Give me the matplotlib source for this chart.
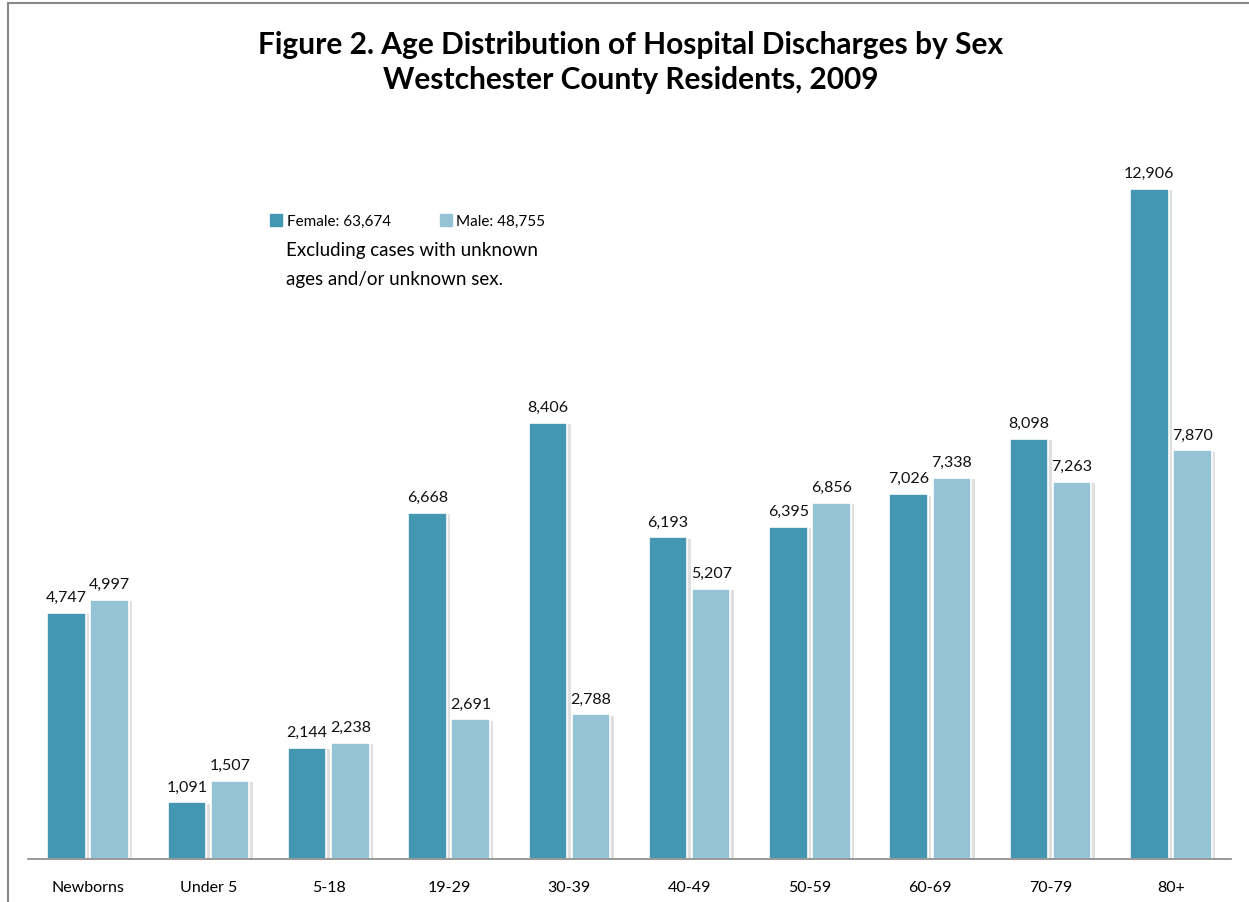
import matplotlib.pyplot as plt
import matplotlib.patches as mpatches
import matplotlib.patheffects as pe
import numpy as np

plt.rcParams['font.family'] = ['Lato', 'DejaVu Sans']

categories = ['Newborns', 'Under 5', '5-18', '19-29', '30-39',
              '40-49', '50-59', '60-69', '70-79', '80+']
female = [4747, 1091, 2144, 6668, 8406, 6193, 6395, 7026, 8098, 12906]
male = [4997, 1507, 2238, 2691, 2788, 5207, 6856, 7338, 7263, 7870]

c_female = '#4397b0'
c_male = '#94c3d5'

fig = plt.figure(figsize=(12.49, 9.03), dpi=100)
ax = fig.add_axes([0.0224, 0.0476, 0.9632, 0.805])

x = np.arange(len(categories))
w = 0.32
shadow = [pe.SimplePatchShadow(offset=(2.5, -1), shadow_rgbFace='#999999', alpha=0.3), pe.Normal()]
b1 = ax.bar(x - 0.179, female, w, color=c_female, edgecolor='white', linewidth=1.2)
b2 = ax.bar(x + 0.179, male, w, color=c_male, edgecolor='white', linewidth=1.2)
for b in list(b1) + list(b2):
    b.set_path_effects(shadow)

for bars, vals in ((b1, female), (b2, male)):
    for b, v in zip(bars, vals):
        ax.text(b.get_x() + b.get_width() / 2, v + 170, f'{v:,}',
                ha='center', va='bottom', fontsize=11.5, color='#111111')

ax.set_xlim(-0.5, 9.5)
ax.set_ylim(0, 14000)
ax.set_xticks(x)
ax.set_xticklabels(categories, fontsize=11.5)
ax.tick_params(axis='x', length=0, pad=15)
ax.set_yticks([])
for s in ['top', 'right', 'left']:
    ax.spines[s].set_visible(False)
ax.spines['bottom'].set_color('#888888')
ax.spines['bottom'].set_linewidth(1.2)

fig.text(0.505, 0.950, 'Figure 2. Age Distribution of Hospital Discharges by Sex',
         ha='center', va='center', fontsize=21.5, fontweight='bold')
fig.text(0.505, 0.911, 'Westchester County Residents, 2009',
         ha='center', va='center', fontsize=21.5, fontweight='bold')

handles = [mpatches.Patch(color=c_female, label=f'Female: {sum(female):,}'),
           mpatches.Patch(color=c_male, label=f'Male: {sum(male):,}')]
fig.legend(handles=handles, loc='center left', bbox_to_anchor=(0.205, 0.754),
           ncol=2, frameon=False, fontsize=11, handlelength=0.8, handleheight=0.8,
           handletextpad=0.3, columnspacing=3.2)

fig.text(0.229, 0.723, 'Excluding cases with unknown', fontsize=13.5, va='center')
fig.text(0.229, 0.690, 'ages and/or unknown sex.', fontsize=13.5, va='center')

fig.patches.append(mpatches.Rectangle((0.0064, -0.1), 1.2, 1.0956, transform=fig.transFigure,
                                      fill=False, edgecolor='#888888', linewidth=1.5))

fig.savefig('out.png', dpi=100)
